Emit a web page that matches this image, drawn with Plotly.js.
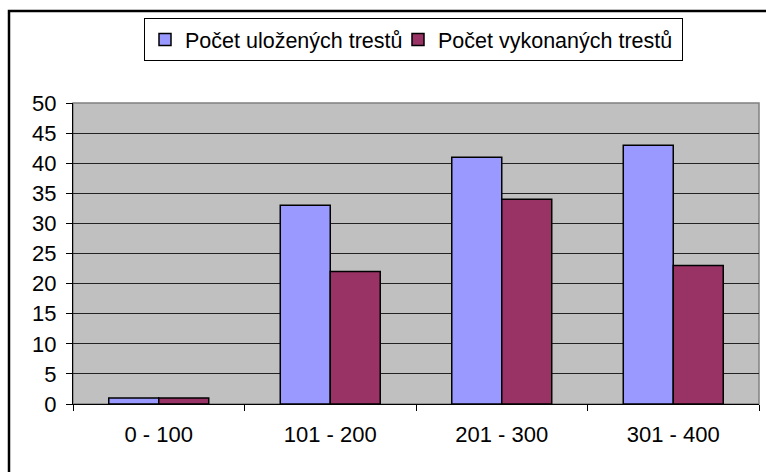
<!DOCTYPE html>
<html>
<head>
<meta charset="utf-8">
<script src="https://cdn.plot.ly/plotly-3.0.1.min.js"></script>
<style>html,body{margin:0;padding:0;background:#fff;}#chart{width:766px;height:472px;}</style>
</head>
<body>
<div id="chart"></div>
<script>
const categories = ["0 - 100", "101 - 200", "201 - 300", "301 - 400"];
const seriesNames = ["Počet uložených trestů", "Počet vykonaných trestů"];
const ulozenych = [1, 33, 41, 43];
const vykonanych = [1, 22, 34, 23];
const yTicks = [0, 5, 10, 15, 20, 25, 30, 35, 40, 45, 50];

const FONT = "Liberation Sans, Arial, sans-serif";

const traces = [
  {type: "bar", name: seriesNames[0], x: categories, y: ulozenych, legendwidth: 208,
   marker: {color: "#9999FF", line: {color: "#000000", width: 1.5}}},
  {type: "bar", name: seriesNames[1], x: categories, y: vykonanych, legendwidth: 239,
   marker: {color: "#993366", line: {color: "#000000", width: 1.5}}}
];

const L = 73, R = 759, T = 103, B = 404, W = 766, H = 472;
const pw = R - L, ph = B - T;
const px = v => (v - L) / pw;
const py = v => (B - v) / ph;

const layout = {
  width: W, height: H,
  margin: {l: L, r: W - R, t: T, b: H - B, pad: 0},
  paper_bgcolor: "#FFFFFF",
  plot_bgcolor: "#C0C0C0",
  font: {family: FONT, size: 22, color: "#000"},
  barmode: "group",
  bargap: 0.417,
  bargroupgap: 0,
  showlegend: true,
  legend: {
    orientation: "h", x: px(144), y: py(18), xanchor: "left", yanchor: "top",
    bordercolor: "#000", borderwidth: 1, bgcolor: "#FFFFFF",
    font: {family: FONT, size: 21.5, color: "#000"},
    traceorder: "normal"
  },
  xaxis: {
    type: "category",
    showline: true, linecolor: "#000", linewidth: 1,
    ticks: "outside", ticklen: 6, tickcolor: "#000", tickson: "boundaries",
    ticklabelstandoff: 11,
    showgrid: false, zeroline: false,
    fixedrange: true
  },
  yaxis: {
    range: [0, 50],
    tickvals: yTicks,
    showline: true, linecolor: "#000", linewidth: 1,
    ticks: "outside", ticklen: 6, tickcolor: "#000",
    ticklabelstandoff: 5,
    showgrid: true, gridcolor: "#222", gridwidth: 1,
    zeroline: false,
    fixedrange: true
  },
  shapes: [
    {type: "rect", xref: "paper", yref: "paper", x0: 0, x1: 1, y0: 0, y1: 1,
     line: {color: "#808080", width: 1.5}, layer: "below"},
    {type: "rect", xref: "paper", yref: "paper",
     x0: px(9), x1: px(775), y0: py(480), y1: py(11),
     line: {color: "#000", width: 2.5}, fillcolor: "rgba(0,0,0,0)", layer: "above"}
  ]
};

Plotly.newPlot("chart", traces, layout, {displayModeBar: false, staticPlot: true});
</script>
</body>
</html>
